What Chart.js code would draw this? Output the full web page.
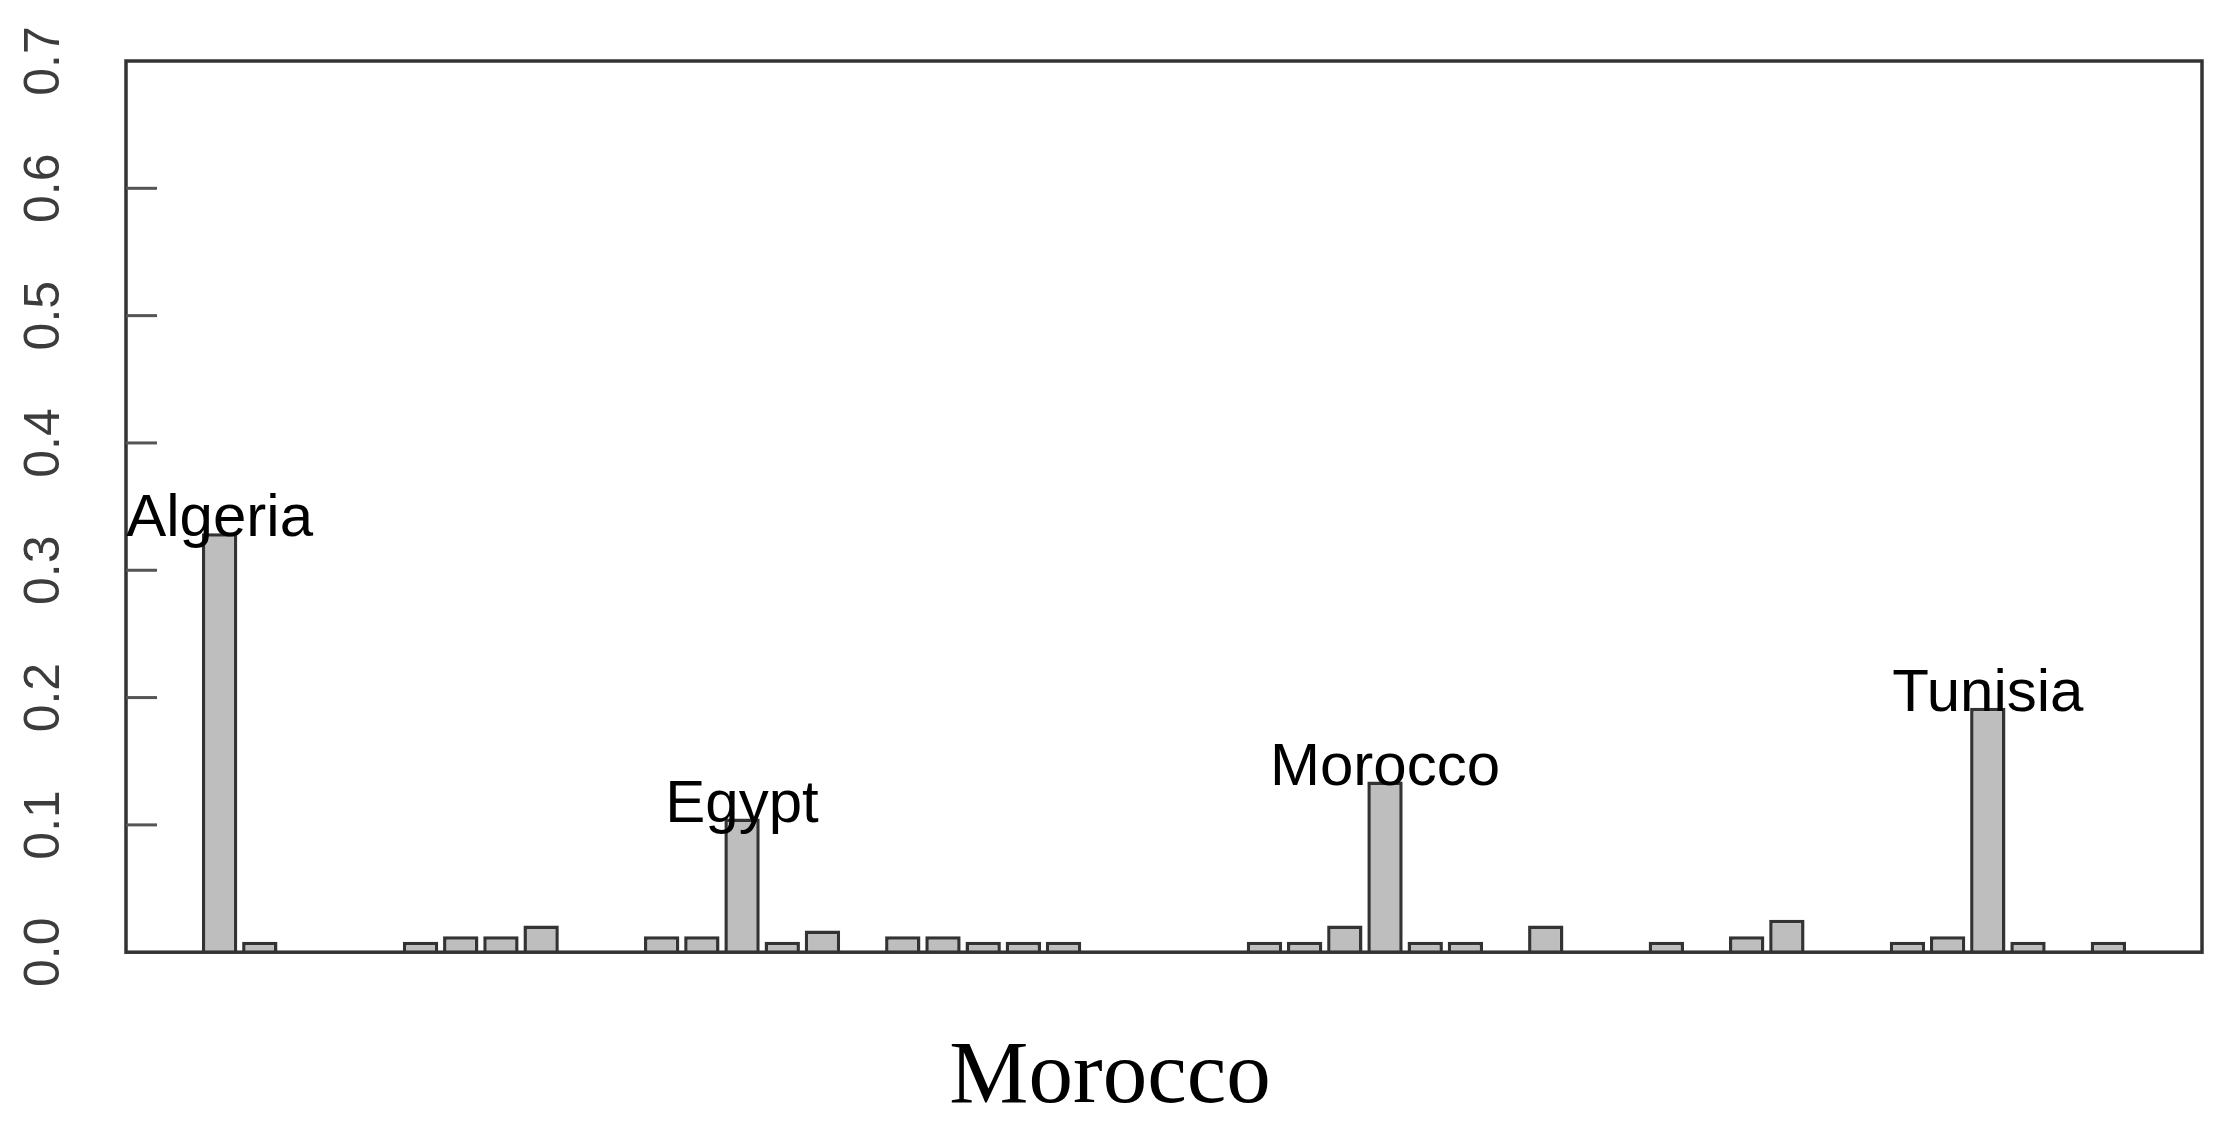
<!DOCTYPE html>
<html>
<head>
<meta charset="utf-8">
<script src="https://cdn.jsdelivr.net/npm/chart.js@4.4.1/dist/chart.umd.min.js"></script>
<style>
body { margin: 0; background: #fff; }
</style>
</head>
<body>
<canvas id="myChart" width="2228" height="1145"></canvas>
<script>
/* DATA */
// one value per slot, left to right (48 slots)
var values = [
    0.329, 0.0083, 0, 0, 0, 0.0083, 0.0125, 0.0125, 0.021, 0, 0, 0.0125,
    0.0125, 0.105, 0.0083, 0.017, 0, 0.0125, 0.0125, 0.0083, 0.0083, 0.0083, 0, 0,
    0, 0, 0.0083, 0.0083, 0.021, 0.134, 0.0083, 0.0083, 0, 0.021, 0, 0,
    0.0083, 0, 0.0125, 0.0255, 0, 0, 0.0083, 0.0125, 0.192, 0.0083, 0, 0.0083
];
var labelNames = ['Algeria', 'Egypt', 'Morocco', 'Tunisia'];
var labelSlots = [0, 13, 29, 44];
var yTickLabels = ['0.0', '0.1', '0.2', '0.3', '0.4', '0.5', '0.6', '0.7'];
var title = 'Morocco';
/* DATA */

var sans = '"Liberation Sans", Arial, sans-serif';

// box round the plot, inward tick marks, country names over their bars
var frame = {
    id: 'frame',
    afterDatasetsDraw: function(chart) {
        var ctx = chart.ctx;
        var a = chart.chartArea;
        var y = chart.scales.y;
        ctx.save();
        ctx.strokeStyle = '#333';
        ctx.lineWidth = 3.5;
        ctx.strokeRect(a.left, a.top, a.right - a.left, a.bottom - a.top);

        ctx.strokeStyle = '#555';
        ctx.lineWidth = 3;
        for (var i = 1; i < y.ticks.length - 1; i++) {
            var py = y.getPixelForTick(i);
            ctx.beginPath();
            ctx.moveTo(a.left, py);
            ctx.lineTo(a.left + 31, py);
            ctx.stroke();
        }

        var meta = chart.getDatasetMeta(0);
        ctx.fillStyle = '#000';
        ctx.font = '60px ' + sans;
        ctx.textAlign = 'center';
        ctx.textBaseline = 'alphabetic';
        labelSlots.forEach(function(s, k) {
            var bar = meta.data[s];
            ctx.fillText(labelNames[k], bar.x, bar.y + 3);
        });
        ctx.restore();
    }
};

var config = {
    type: 'bar',
    data: {
        datasets: [{
            data: values.map(function(v, i) { return { x: i, y: v }; }),
            backgroundColor: '#bebebe',
            borderColor: '#333',
            borderWidth: 3.5,
            barPercentage: 0.88,
            categoryPercentage: 1
        }]
    },
    options: {
        responsive: false,
        animation: false,
        layout: { padding: { left: 18, top: 61, right: 26, bottom: 13 } },
        scales: {
            x: {
                type: 'linear',
                min: -2.33,
                max: 49.33,
                offset: false,
                bounds: 'data',
                border: { display: false },
                grid: { display: false, drawTicks: false },
                ticks: { display: false, stepSize: 10 },
                afterFit: function(s) { s.height = 0; }
            },
            y: {
                min: 0,
                max: 0.7,
                border: { display: false },
                grid: { display: true, drawOnChartArea: false, drawTicks: true, tickLength: 41, color: 'rgba(0,0,0,0)' },
                ticks: {
                    stepSize: 0.1,
                    minRotation: 90,
                    maxRotation: 90,
                    crossAlign: 'center',
                    padding: 5,
                    color: '#3c3c3c',
                    font: { family: sans, size: 50 },
                    callback: function(v, i) { return yTickLabels[i]; }
                },
                afterFit: function(s) { s.width = 108; }
            }
        },
        plugins: {
            legend: { display: false },
            tooltip: { enabled: false },
            title: {
                display: true,
                position: 'bottom',
                text: title,
                color: '#000',
                font: { family: '"Liberation Serif", "Times New Roman", serif', size: 89, weight: 'normal', lineHeight: 1.2 },
                padding: { top: 73, bottom: 0 }
            }
        }
    },
    plugins: [frame]
};

window.myChart = new Chart(document.getElementById('myChart').getContext('2d'), config);
</script>
</body>
</html>
